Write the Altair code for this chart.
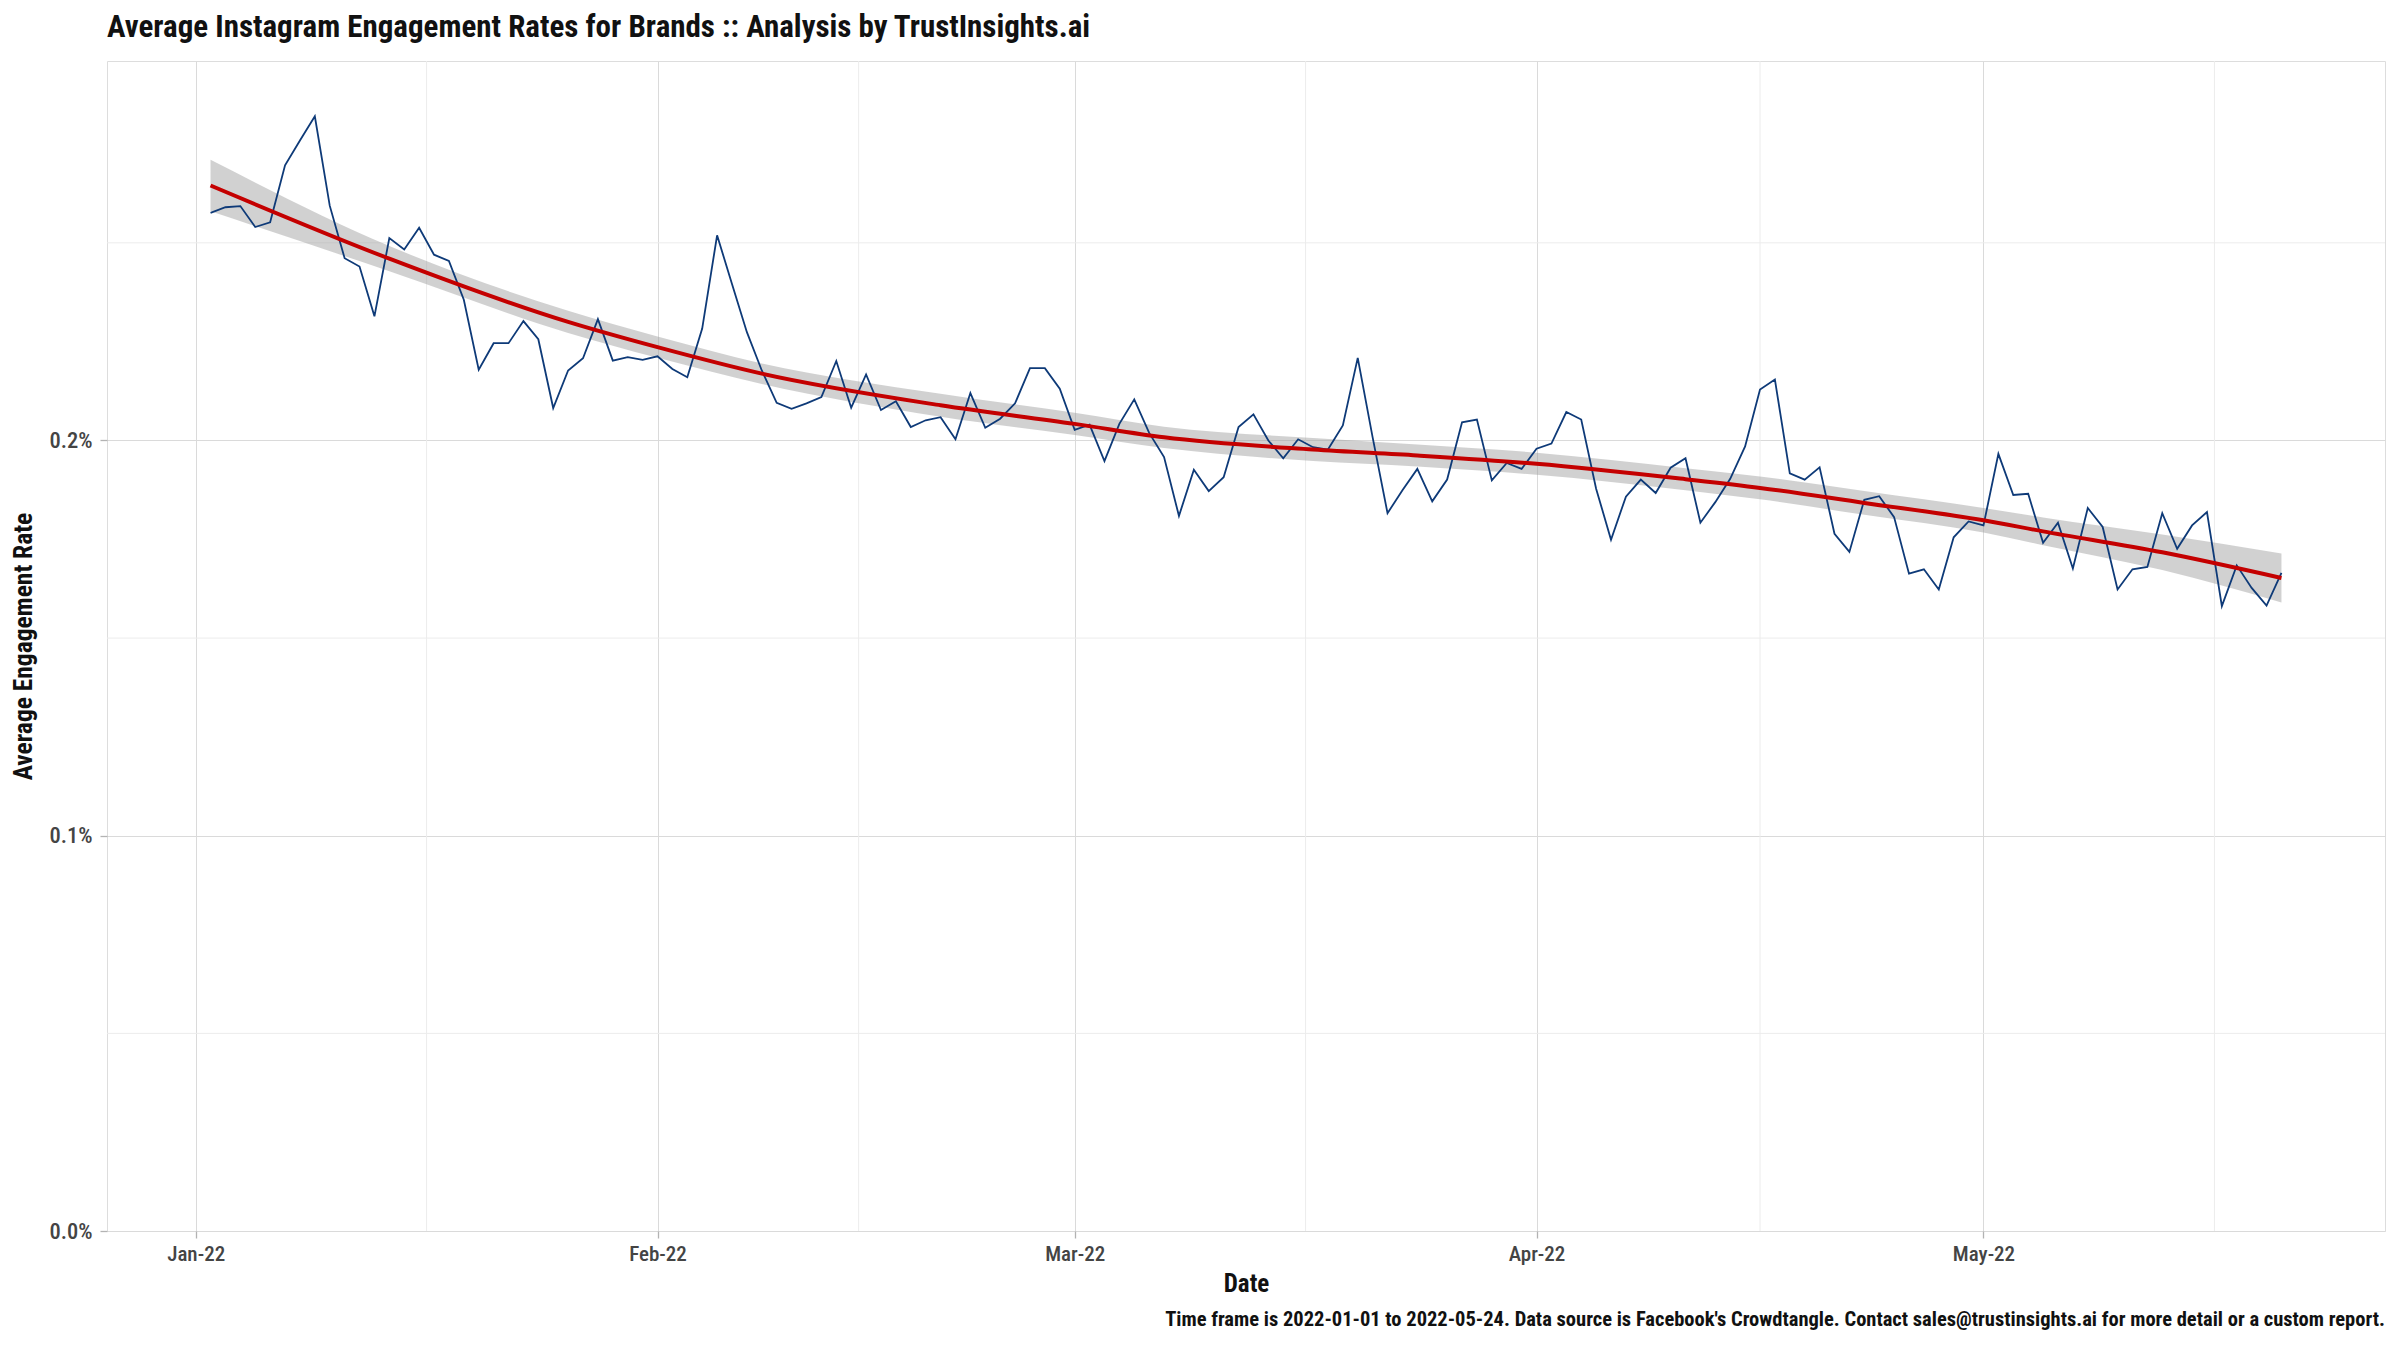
import altair as alt
import pandas as pd

# ---------------- data ----------------
start_date = "2022-01-02"
# daily average engagement rate, in percent
engagement_pct = [
    0.2576, 0.2590, 0.2593, 0.2540, 0.2552, 0.2696, 0.2759, 0.2820, 0.2594, 0.2461,
    0.2440, 0.2314, 0.2512, 0.2483, 0.2538, 0.2470, 0.2454, 0.2356, 0.2179, 0.2246,
    0.2246, 0.2302, 0.2256, 0.2082, 0.2177, 0.2208, 0.2307, 0.2202, 0.2211, 0.2204,
    0.2213, 0.2181, 0.2160, 0.2283, 0.2519, 0.2396, 0.2274, 0.2177, 0.2095, 0.2080,
    0.2094, 0.2110, 0.2201, 0.2083, 0.2167, 0.2077, 0.2099, 0.2034, 0.2051, 0.2059,
    0.2003, 0.2120, 0.2032, 0.2055, 0.2094, 0.2183, 0.2183, 0.2131, 0.2027, 0.2040,
    0.1948, 0.2042, 0.2104, 0.2019, 0.1958, 0.1809, 0.1926, 0.1872, 0.1907, 0.2034,
    0.2066, 0.2000, 0.1955, 0.2003, 0.1983, 0.1977, 0.2038, 0.2209, 0.2008, 0.1816,
    0.1874, 0.1928, 0.1846, 0.1901, 0.2046, 0.2053, 0.1899, 0.1943, 0.1928, 0.1979,
    0.1992, 0.2072, 0.2053, 0.1878, 0.1749, 0.1858, 0.1901, 0.1867, 0.1931, 0.1955,
    0.1792, 0.1844, 0.1903, 0.1985, 0.2129, 0.2154, 0.1917, 0.1901, 0.1932, 0.1764,
    0.1718, 0.1850, 0.1859, 0.1806, 0.1663, 0.1674, 0.1623, 0.1755, 0.1795, 0.1785,
    0.1966, 0.1862, 0.1865, 0.1741, 0.1792, 0.1676, 0.1829, 0.1781, 0.1623, 0.1674,
    0.1680, 0.1816, 0.1726, 0.1785, 0.1819, 0.1581, 0.1684, 0.1627, 0.1582, 0.1665,
]

# smoothed trend (loess) and its confidence band, in percent
smooth_dates = [
    "2022-01-02", "2022-01-14", "2022-01-26", "2022-02-01", "2022-02-08", "2022-02-20",
    "2022-03-01", "2022-03-07", "2022-03-17", "2022-03-24", "2022-04-01", "2022-04-11",
    "2022-04-16", "2022-04-23", "2022-05-01", "2022-05-05", "2022-05-13", "2022-05-21",
]
smooth_mid_pct = [
    0.2645, 0.2460, 0.2300, 0.2236, 0.2169, 0.2089,
    0.2042, 0.2008, 0.1977, 0.1962, 0.1941, 0.1902,
    0.1880, 0.1842, 0.1798, 0.1770, 0.1717, 0.1652,
]
smooth_half_pct = [
    0.0065, 0.0032, 0.0028, 0.0027, 0.0026, 0.0029,
    0.0028, 0.0027, 0.0029, 0.0028, 0.0028, 0.0028,
    0.0029, 0.0030, 0.0031, 0.0035, 0.0045, 0.0062,
]

minor_x_breaks = ["2022-01-16T12:00:00", "2022-02-14T12:00:00", "2022-03-16T12:00:00",
                  "2022-04-16T00:00:00", "2022-05-16T12:00:00"]
y_breaks = [0.0, 0.001, 0.002]
minor_y_breaks = [0.0005, 0.0015, 0.0025]

title_text = "Average Instagram Engagement Rates for Brands :: Analysis by TrustInsights.ai"
caption_text = ("Time frame is 2022-01-01 to 2022-05-24. Data source is Facebook's Crowdtangle. "
                "Contact sales@trustinsights.ai for more detail or a custom report.")

# ---------------- tables ----------------
dates = pd.date_range(start_date, periods=len(engagement_pct), freq="D").strftime("%Y-%m-%dT00:00:00")
df = pd.DataFrame({"date": list(dates), "rate": [v / 100 for v in engagement_pct]})

sm = pd.DataFrame({
    "date": [d + "T00:00:00" for d in smooth_dates],
    "mid": [v / 100 for v in smooth_mid_pct],
    "lo": [(m - h) / 100 for m, h in zip(smooth_mid_pct, smooth_half_pct)],
    "hi": [(m + h) / 100 for m, h in zip(smooth_mid_pct, smooth_half_pct)],
})
minor_x_df = pd.DataFrame({"date": minor_x_breaks})
minor_y_df = pd.DataFrame({"rate": minor_y_breaks})
cap_df = pd.DataFrame({"caption": [caption_text]})

# ---------------- styling ----------------
FONT = "Liberation Sans Narrow, Roboto Condensed, DejaVu Sans Condensed, Roboto, sans-serif"
W, H = 2278, 1170

x_scale = alt.Scale(domain=[alt.DateTime(year=2021, month=12, date=26, hours=1, minutes=12),
                            alt.DateTime(year=2022, month=5, date=27, hours=22, minutes=48)])
y_scale = alt.Scale(domain=[0, 0.00296], nice=False, zero=True)

x_axis = alt.Axis(values=[alt.DateTime(year=2022, month=m, date=1) for m in range(1, 6)],
                  format="%b-%y", formatType="time", title="Date",
                  labelFontSize=21, labelFont=FONT, labelColor="#444444", labelPadding=5,
                  labelFontWeight=500,
                  titleFont=FONT, titleFontSize=25, titleFontWeight="bold", titleColor="#111111",
                  titlePadding=7, tickSize=7, tickColor="#b3b3b3", tickWidth=1.3, domain=False,
                  grid=True, gridColor="#dadada")
y_axis = alt.Axis(values=y_breaks, format=".1%", title="Average Engagement Rate",
                  labelFontSize=22.5, labelFont=FONT, labelColor="#444444", labelPadding=8,
                  labelFontWeight=500,
                  titleFont=FONT, titleFontSize=25.5, titleFontWeight="bold", titleColor="#111111",
                  titlePadding=12, tickSize=7, tickColor="#b3b3b3", tickWidth=1.3, domain=False,
                  grid=True, gridColor="#dadada")

X = lambda: alt.X("date:T", scale=x_scale, axis=x_axis)
Y = lambda f="rate": alt.Y(f"{f}:Q", scale=y_scale, axis=y_axis)

minor_v = alt.Chart(minor_x_df).mark_rule(color="#ececec", strokeWidth=1).encode(x=X())
minor_h = alt.Chart(minor_y_df).mark_rule(color="#ececec", strokeWidth=1).encode(y=Y())

band = alt.Chart(sm).mark_area(color="#999999", opacity=0.45, interpolate="monotone").encode(
    x=X(), y=Y("lo"), y2="hi:Q")
line = alt.Chart(df).mark_line(color="#0e3a78", strokeWidth=1.8).encode(x=X(), y=Y())
trend = alt.Chart(sm).mark_line(color="#c40000", strokeWidth=4, interpolate="monotone").encode(
    x=X(), y=Y("mid"))

caption = alt.Chart(cap_df).mark_text(align="right", baseline="middle", font=FONT, fontSize=20.5,
                                      fontWeight="bold", color="#111111").encode(
    x=alt.value(W), y=alt.value(H + 89), text="caption:N")

chart = alt.layer(minor_v, minor_h, band, line, trend, caption).properties(
    width=W, height=H,
    padding={"left": 99, "top": 53, "right": 7, "bottom": 110},
    autosize=alt.AutoSizeParams(type="none"),
    title=alt.TitleParams(title_text, anchor="start", frame="group", font=FONT, fontSize=31,
                          fontWeight="bold", color="#111111", offset=17),
).configure_view(stroke="#aaaaaa", strokeWidth=1.5).configure(background="white")

chart.save("out.html", embed_options={"renderer": "svg", "actions": False})
